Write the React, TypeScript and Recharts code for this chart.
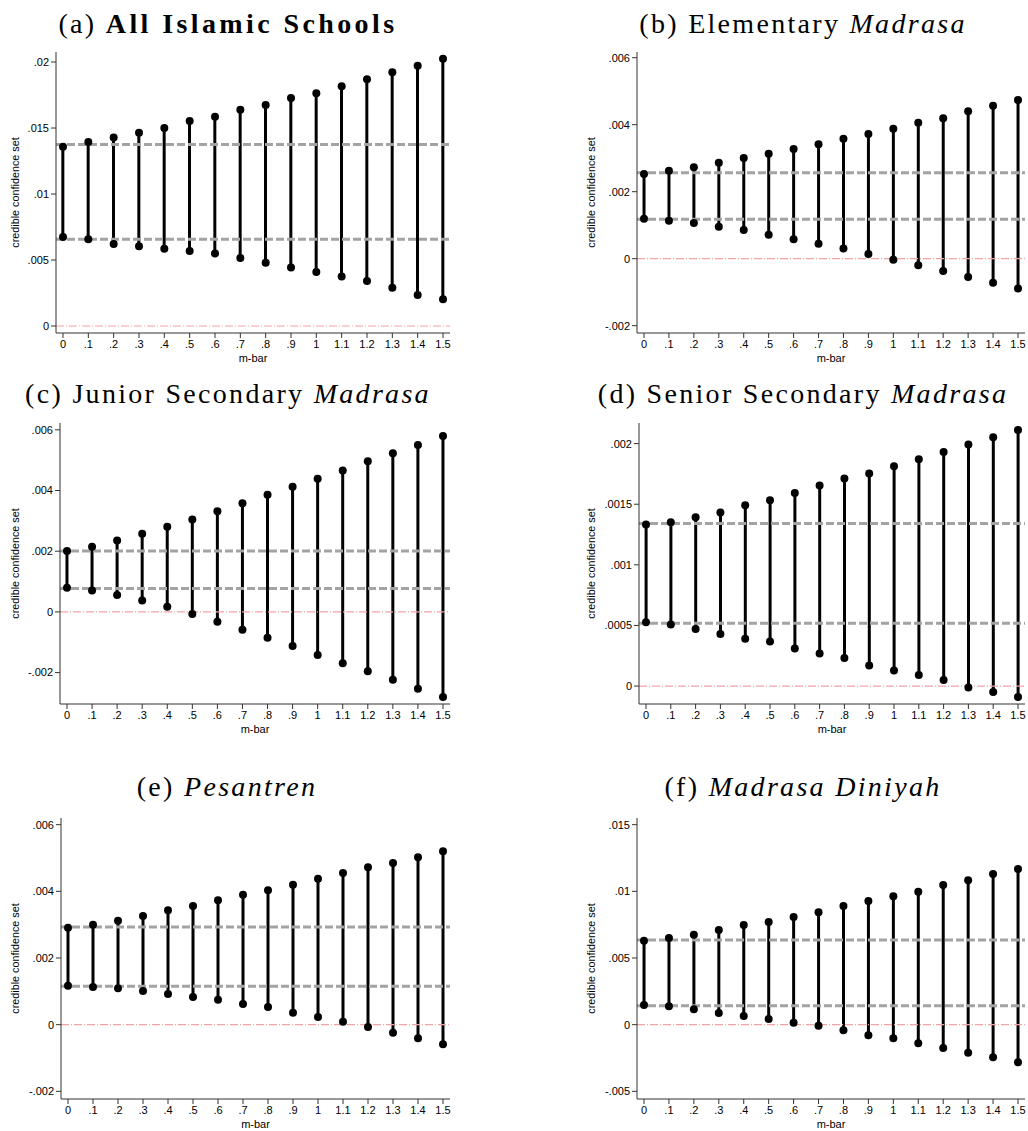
import React from 'react';
import { Bar, ComposedChart, Label, Line, ReferenceLine, XAxis, YAxis } from 'recharts';

// m-bar grid shared by all six panels
const MBAR = [0, 0.1, 0.2, 0.3, 0.4, 0.5, 0.6, 0.7, 0.8, 0.9, 1, 1.1, 1.2, 1.3, 1.4, 1.5];

// (a) All Islamic Schools
const ALL_HI = [0.01359, 0.01394, 0.01429, 0.01465, 0.015, 0.01553, 0.01586, 0.01639, 0.01674, 0.01727, 0.01763, 0.01816, 0.01869, 0.01922, 0.01972, 0.02025];
const ALL_LO = [0.00674, 0.00657, 0.00621, 0.00604, 0.00586, 0.00568, 0.0055, 0.00515, 0.0048, 0.00444, 0.00409, 0.00376, 0.00341, 0.0029, 0.00235, 0.00202];
const ALL_CI = [0.00657, 0.01376];
const ALL_TICKS = [0, 0.005, 0.01, 0.015, 0.02];

// (b) Elementary Madrasa
const ELEM_HI = [0.002527, 0.002627, 0.002726, 0.002866, 0.003005, 0.003134, 0.003274, 0.003413, 0.003582, 0.003721, 0.003881, 0.00406, 0.004189, 0.004398, 0.004567, 0.004736];
const ELEM_LO = [0.001194, 0.001134, 0.001065, 0.000955, 0.000856, 0.000716, 0.000577, 0.000448, 0.000308, 0.000139, -0.00003, -0.000199, -0.000368, -0.000547, -0.000716, -0.000886];
const ELEM_CI = [0.001174, 0.002567];
const ELEM_TICKS = [-0.002, 0, 0.002, 0.004, 0.006];

// (c) Junior Secondary Madrasa
const JUN_HI = [0.002003, 0.002145, 0.002354, 0.002573, 0.002804, 0.003045, 0.00332, 0.003583, 0.003857, 0.004121, 0.004384, 0.004658, 0.004966, 0.005229, 0.005503, 0.0058];
const JUN_LO = [0.000796, 0.000708, 0.000554, 0.000379, 0.00017, -0.000071, -0.000324, -0.000587, -0.00085, -0.001125, -0.001421, -0.001695, -0.001959, -0.002233, -0.00253, -0.002804];
const JUN_CI = [0.000774, 0.002003];
const JUN_TICKS = [-0.002, 0, 0.002, 0.004, 0.006];

// (d) Senior Secondary Madrasa
const SEN_HI = [0.001332, 0.001352, 0.001393, 0.001431, 0.001492, 0.001533, 0.001593, 0.001654, 0.001712, 0.001753, 0.001813, 0.001871, 0.001931, 0.001992, 0.002052, 0.002113];
const SEN_LO = [0.000527, 0.000508, 0.00047, 0.000429, 0.00039, 0.000368, 0.00031, 0.000269, 0.000231, 0.00017, 0.000129, 0.000091, 0.00005, -0.000011, -0.00005, -0.000091];
const SEN_CI = [0.000519, 0.001341];
const SEN_TICKS = [0, 0.0005, 0.001, 0.0015, 0.002];

// (e) Pesantren
const PES_HI = [0.00291, 0.003, 0.00312, 0.00326, 0.00343, 0.00356, 0.00373, 0.0039, 0.00403, 0.0042, 0.00438, 0.00455, 0.00472, 0.00485, 0.00502, 0.0052];
const PES_LO = [0.00117, 0.00113, 0.00109, 0.00101, 0.00092, 0.00083, 0.00075, 0.00062, 0.00053, 0.00036, 0.00023, 0.00009, -0.00007, -0.00024, -0.00041, -0.00059];
const PES_CI = [0.00115, 0.00293];
const PES_TICKS = [-0.002, 0, 0.002, 0.004, 0.006];

// (f) Madrasa Diniyah
const DIN_HI = [0.0063, 0.0065, 0.00675, 0.0071, 0.007475, 0.0077, 0.008075, 0.008425, 0.0089, 0.009275, 0.009625, 0.009975, 0.010475, 0.010825, 0.0113, 0.011675];
const DIN_LO = [0.001475, 0.001375, 0.00115, 0.000875, 0.00065, 0.000425, 0.00015, -0.000075, -0.000425, -0.0008, -0.001025, -0.0014, -0.00175, -0.0021, -0.00245, -0.002825];
const DIN_CI = [0.001425, 0.00635];
const DIN_TICKS = [-0.005, 0, 0.005, 0.01, 0.015];

const AXIS_W = 56;
const TOP_PAD = 10;
const X_AXIS_H = 40;
const SANS = '"Liberation Sans", Arial, sans-serif';
const SERIF = '"Liberation Serif", "Times New Roman", serif';

// Stata-style numbers: drop the leading zero (.005, -.002)
function stataNum(v: number) {
  if (v === 0) return '0';
  return String(v).replace(/^(-?)0\./, '$1.');
}

interface PanelProps {
  hi: number[];
  lo: number[];
  ci: number[];
  yTicks: number[];
  yDomain: [number, number];
  box: { left: number; top: number; right: number; bottom: number };
  labelGap: number;
}

function SetPanel({ hi, lo, ci, yTicks, yDomain, box, labelGap }: PanelProps) {
  const rows = MBAR.map((m, i) => ({ m, hi: hi[i], lo: lo[i], range: [lo[i], hi[i]] }));
  const plotW = box.right - box.left;
  const plotH = box.bottom - box.top;
  const pad = (7 * 1.5) / (plotW - 14);

  return (
    <div style={{ position: 'absolute', left: box.left - AXIS_W, top: box.top - TOP_PAD }}>
      <ComposedChart
        width={AXIS_W + plotW + 4}
        height={TOP_PAD + plotH + X_AXIS_H}
        data={rows}
        margin={{ top: TOP_PAD, right: 4, bottom: 0, left: 0 }}
      >
        <XAxis
          type="number"
          dataKey="m"
          domain={[-pad, 1.5 + pad]}
          ticks={MBAR}
          interval={0}
          allowDataOverflow
          tickFormatter={stataNum}
          height={X_AXIS_H}
          tickSize={5}
          axisLine={{ stroke: '#333', strokeWidth: 1 }}
          tickLine={{ stroke: '#333' }}
          tick={{ fill: '#000', fontSize: 11, fontFamily: SANS }}
        >
          <Label
            content={(props: any) => {
              const vb = props.viewBox;
              return (
                <text
                  x={vb.x + vb.width / 2}
                  y={vb.y + 29}
                  textAnchor="middle"
                  fontSize={11}
                  fontFamily={SANS}
                  fill="#000"
                >
                  m-bar
                </text>
              );
            }}
          />
        </XAxis>
        <YAxis
          type="number"
          domain={yDomain}
          ticks={yTicks}
          interval={0}
          allowDataOverflow
          tickFormatter={stataNum}
          width={AXIS_W}
          tickSize={5}
          axisLine={{ stroke: '#333', strokeWidth: 1 }}
          tickLine={{ stroke: '#333' }}
          tick={{ fill: '#000', fontSize: 11, fontFamily: SANS }}
        >
          <Label
            content={(props: any) => {
              const vb = props.viewBox;
              const cx = vb.x + vb.width - labelGap;
              const cy = vb.y + vb.height / 2;
              return (
                <text
                  x={cx}
                  y={cy}
                  transform={`rotate(-90 ${cx} ${cy})`}
                  textAnchor="middle"
                  dominantBaseline="central"
                  fontSize={10.8}
                  fontFamily={SANS}
                  fill="#000"
                >
                  credible confidence set
                </text>
              );
            }}
          />
        </YAxis>
        <ReferenceLine y={0} stroke="#f2a3a3" strokeWidth={1.2} strokeDasharray="8 2 1 2" />
        {ci.map((v) => (
          <ReferenceLine key={v} y={v} stroke="#a3a3a3" strokeWidth={3} strokeDasharray="8 3" />
        ))}
        <Bar dataKey="range" barSize={3} fill="#000" isAnimationActive={false} />
        <Line
          dataKey="hi"
          stroke="none"
          strokeWidth={0}
          dot={{ r: 4, fill: '#000', stroke: 'none' }}
          activeDot={false}
          isAnimationActive={false}
        />
        <Line
          dataKey="lo"
          stroke="none"
          strokeWidth={0}
          dot={{ r: 4, fill: '#000', stroke: 'none' }}
          activeDot={false}
          isAnimationActive={false}
        />
      </ComposedChart>
    </div>
  );
}

function Title({ children, center, baseline }: { children: React.ReactNode; center: number; baseline: number }) {
  return (
    <div
      style={{
        position: 'absolute',
        left: center - 260,
        width: 520,
        top: baseline - 22.5,
        height: 28,
        lineHeight: '28px',
        fontSize: 28,
        fontFamily: SERIF,
        letterSpacing: 2.3,
        textAlign: 'center',
        whiteSpace: 'nowrap',
        color: '#000',
      }}
    >
      {children}
    </div>
  );
}

export default function App() {
  return (
    <div style={{ position: 'absolute', left: 0, top: 0, width: 1028, height: 1131, background: '#fff', overflow: 'hidden' }}>
      <Title center={228} baseline={32}>
        (a) <b style={{ letterSpacing: 3.4 }}>All Islamic Schools</b>
      </Title>
      <Title center={803} baseline={32}>
        (b) Elementary <i>Madrasa</i>
      </Title>
      <Title center={228} baseline={402}>
        (c) Junior Secondary <i>Madrasa</i>
      </Title>
      <Title center={803} baseline={402}>
        (d) Senior Secondary <i>Madrasa</i>
      </Title>
      <Title center={227} baseline={795}>
        (e) <i>Pesantren</i>
      </Title>
      <Title center={803} baseline={795}>
        (f) <i>Madrasa Diniyah</i>
      </Title>

      <SetPanel hi={ALL_HI} lo={ALL_LO} ci={ALL_CI} yTicks={ALL_TICKS} yDomain={[-0.00053, 0.02076]}
        box={{ left: 56, top: 52, right: 450, bottom: 333 }} labelGap={41} />
      <SetPanel hi={ELEM_HI} lo={ELEM_LO} ci={ELEM_CI} yTicks={ELEM_TICKS} yDomain={[-0.002218, 0.00617]}
        box={{ left: 637, top: 52, right: 1025, bottom: 333 }} labelGap={46} />
      <SetPanel hi={JUN_HI} lo={JUN_LO} ci={JUN_CI} yTicks={JUN_TICKS} yDomain={[-0.003035, 0.006225]}
        box={{ left: 60, top: 423, right: 450, bottom: 704 }} labelGap={45} />
      <SetPanel hi={SEN_HI} lo={SEN_LO} ci={SEN_CI} yTicks={SEN_TICKS} yDomain={[-0.000148, 0.00217]}
        box={{ left: 639, top: 423, right: 1025, bottom: 704 }} labelGap={48} />
      <SetPanel hi={PES_HI} lo={PES_LO} ci={PES_CI} yTicks={PES_TICKS} yDomain={[-0.00223, 0.0062]}
        box={{ left: 61, top: 818, right: 450, bottom: 1099 }} labelGap={46} />
      <SetPanel hi={DIN_HI} lo={DIN_LO} ci={DIN_CI} yTicks={DIN_TICKS} yDomain={[-0.005575, 0.0155]}
        box={{ left: 637, top: 818, right: 1025, bottom: 1099 }} labelGap={46} />
    </div>
  );
}
